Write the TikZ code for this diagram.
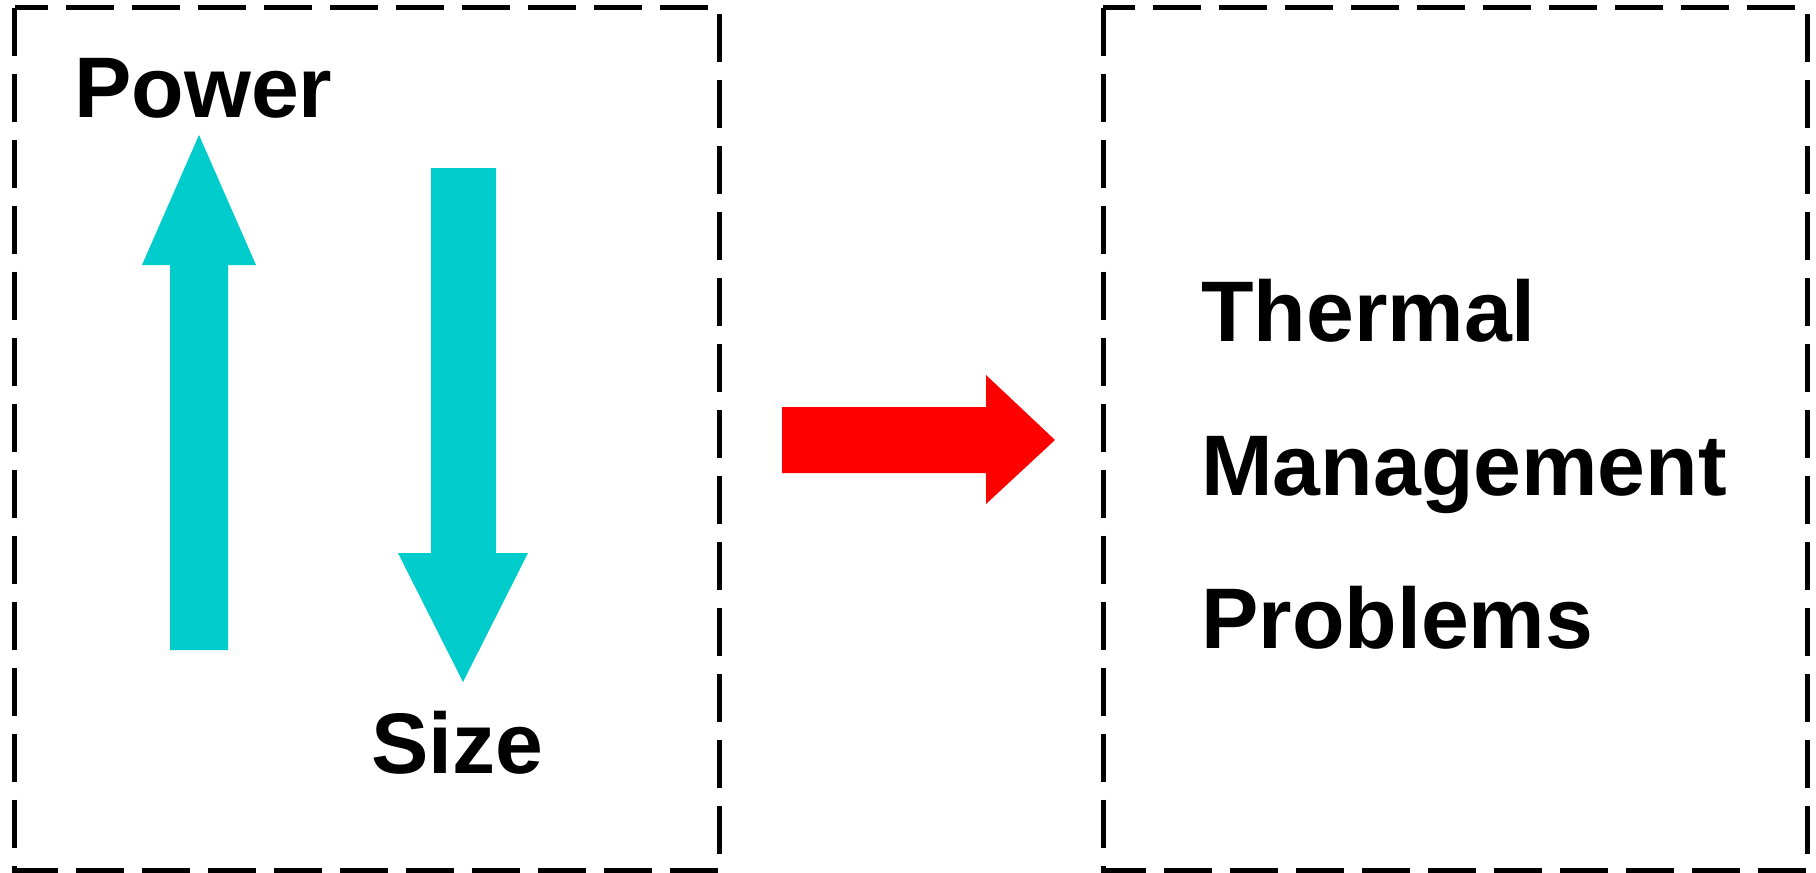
\documentclass[tikz,border=0pt]{standalone}
\usepackage{fontspec}
\setmainfont{Liberation Sans}
\definecolor{arrowcyan}{RGB}{0,204,204}
\begin{document}
\begin{tikzpicture}[x=1pt,y=-1pt,
  box/.style={draw=black, line width=5pt, dash pattern=on 48pt off 18pt},
  lbl/.style={font=\fontsize{86}{100}\selectfont\bfseries, anchor=base west, inner sep=0pt},
  cyanarrow/.style={fill=arrowcyan, draw=none},
  redarrow/.style={fill=red, draw=none}]
\useasboundingbox (0,0) rectangle (1816,873);
% dashed boxes
\draw[box] (14.5,7.5) rectangle (719,870.5);
\draw[box] (1103,7.5) rectangle (1807,870.5);
% cyan arrows
\fill[cyanarrow] (199,135) -- (256,265) -- (228,265) -- (228,650) -- (170,650) -- (170,265) -- (142,265) -- cycle;
\fill[cyanarrow] (431,168) -- (496,168) -- (496,553) -- (528,553) -- (463,682) -- (398,553) -- (431,553) -- cycle;
% red arrow
\fill[redarrow] (782,407) -- (986,407) -- (986,375) -- (1055,440) -- (986,504) -- (986,473) -- (782,473) -- cycle;
% labels
\node[lbl] (power) at (74,117) {Power};
\node[lbl] (size) at (371,773) {Size};
\node[lbl] (thermal) at (1201,341) {Thermal};
\node[lbl] (management) at (1201,495) {Management};
\node[lbl] (problems) at (1201,648) {Problems};
\end{tikzpicture}
\end{document}
